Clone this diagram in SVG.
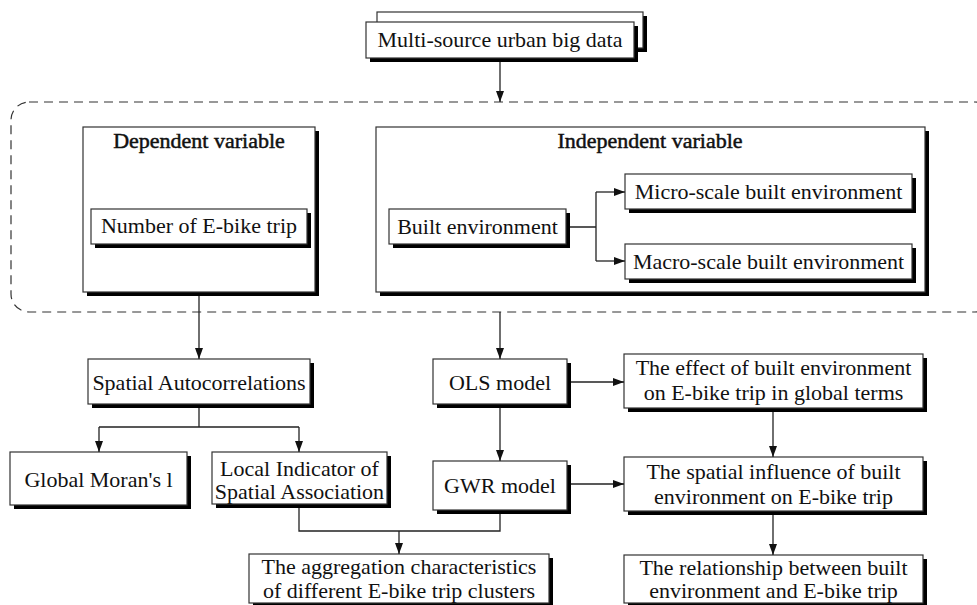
<svg xmlns="http://www.w3.org/2000/svg" width="977" height="605" viewBox="0 0 977 605">
<defs>
<marker id="ah" markerWidth="11" markerHeight="8" refX="11" refY="4" orient="auto" markerUnits="userSpaceOnUse">
<path d="M0,0 L11,4 L0,8 Z" fill="#111"/>
</marker>
</defs>
<style>
.sh{fill:#000}
.bx{fill:#fff;stroke:#333;stroke-width:1.2}
.t{font-family:"Liberation Serif","Times New Roman",serif;font-size:22px;fill:#111;text-anchor:middle}
.tb{font-family:"Liberation Serif","Times New Roman",serif;font-size:22px;fill:#111;stroke:#111;stroke-width:0.5;text-anchor:middle}
.ln{fill:none;stroke:#222;stroke-width:1.3}
.ar{fill:none;stroke:#222;stroke-width:1.3;marker-end:url(#ah)}
.dash{fill:none;stroke:#333;stroke-width:1.2;stroke-dasharray:9 6}
</style>
<rect class="dash" x="11" y="102" width="982" height="210" rx="18"/>

<g id="bigdata">
<rect class="sh" x="381" y="16" width="266" height="36"/>
<rect class="bx" x="377" y="12" width="266" height="36"/>
<rect class="sh" x="370" y="26" width="268" height="36"/>
<rect class="bx" x="366" y="22" width="268" height="36"/>
<text class="t" x="500" y="47">Multi-source urban big data</text>
</g>

<g id="dependent">
<rect class="sh" x="87" y="131" width="232" height="165"/>
<rect class="bx" x="83" y="127" width="232" height="165"/>
<text class="tb" x="199" y="148">Dependent variable</text>
</g>
<g id="ebike">
<rect class="sh" x="95" y="213" width="216" height="35"/>
<rect class="bx" x="91" y="209" width="216" height="35"/>
<text class="t" x="199" y="233">Number of E-bike trip</text>
</g>

<g id="independent">
<rect class="sh" x="380" y="131" width="549" height="165"/>
<rect class="bx" x="376" y="127" width="549" height="165"/>
<text class="tb" x="650" y="148">Independent variable</text>
</g>
<g id="built">
<rect class="sh" x="393" y="213" width="177" height="35"/>
<rect class="bx" x="389" y="209" width="177" height="35"/>
<text class="t" x="477.5" y="234">Built environment</text>
</g>
<g id="micro">
<rect class="sh" x="629" y="178" width="287" height="35"/>
<rect class="bx" x="625" y="174" width="287" height="35"/>
<text class="t" x="768.5" y="199">Micro-scale built environment</text>
</g>
<g id="macro">
<rect class="sh" x="629" y="248" width="287" height="35"/>
<rect class="bx" x="625" y="244" width="287" height="35"/>
<text class="t" x="768.5" y="269">Macro-scale built environment</text>
</g>

<g id="spatialauto">
<rect class="sh" x="92" y="363" width="222" height="45"/>
<rect class="bx" x="88" y="359" width="222" height="45"/>
<text class="t" x="199" y="390">Spatial Autocorrelations</text>
</g>
<g id="moran">
<rect class="sh" x="14" y="456" width="177" height="53"/>
<rect class="bx" x="10" y="452" width="177" height="53"/>
<text class="t" x="98.5" y="487">Global Moran's l</text>
</g>
<g id="lisa">
<rect class="sh" x="216" y="456" width="175" height="52"/>
<rect class="bx" x="212" y="452" width="175" height="52"/>
<text class="t" x="299.5" y="476">Local Indicator of</text>
<text class="t" x="299.5" y="499">Spatial Association</text>
</g>
<g id="aggregation">
<rect class="sh" x="253" y="558" width="300" height="49"/>
<rect class="bx" x="249" y="554" width="300" height="49"/>
<text class="t" x="399" y="574">The aggregation characteristics</text>
<text class="t" x="399" y="598">of different E-bike trip clusters</text>
</g>

<g id="ols">
<rect class="sh" x="437" y="363" width="134" height="45"/>
<rect class="bx" x="433" y="359" width="134" height="45"/>
<text class="t" x="500" y="390">OLS model</text>
</g>
<g id="gwr">
<rect class="sh" x="437" y="465" width="134" height="49"/>
<rect class="bx" x="433" y="461" width="134" height="49"/>
<text class="t" x="500" y="493">GWR model</text>
</g>

<g id="effect">
<rect class="sh" x="628" y="358" width="299" height="54"/>
<rect class="bx" x="624" y="354" width="299" height="54"/>
<text class="t" x="773.5" y="375">The effect of built environment</text>
<text class="t" x="773.5" y="400">on E-bike trip in global terms</text>
</g>
<g id="influence">
<rect class="sh" x="628" y="461" width="299" height="54"/>
<rect class="bx" x="624" y="457" width="299" height="54"/>
<text class="t" x="773.5" y="479">The spatial influence of built</text>
<text class="t" x="773.5" y="504">environment on E-bike trip</text>
</g>
<g id="relationship">
<rect class="sh" x="628" y="559" width="299" height="48"/>
<rect class="bx" x="624" y="555" width="299" height="48"/>
<text class="t" x="773.5" y="575">The relationship between built</text>
<text class="t" x="773.5" y="598">environment and E-bike trip</text>
</g>

<g id="connectors">
<line class="ar" x1="500" y1="62" x2="500" y2="102"/>
<path class="ln" d="M570,227 H596 M596,192 V261"/>
<line class="ar" x1="596" y1="192" x2="625" y2="192"/>
<line class="ar" x1="596" y1="261" x2="625" y2="261"/>
<line class="ar" x1="199" y1="296" x2="199" y2="359"/>
<path class="ln" d="M199,408 V427 M99,427 H299"/>
<line class="ar" x1="99" y1="427" x2="99" y2="452"/>
<line class="ar" x1="299" y1="427" x2="299" y2="452"/>
<line class="ar" x1="500" y1="312" x2="500" y2="359"/>
<line class="ar" x1="500" y1="408" x2="500" y2="461"/>
<line class="ar" x1="571" y1="382" x2="624" y2="382"/>
<line class="ar" x1="571" y1="484" x2="624" y2="484"/>
<path class="ln" d="M299,508 V531 H500 V514"/>
<line class="ar" x1="399" y1="531" x2="399" y2="554"/>
<line class="ar" x1="773" y1="412" x2="773" y2="457"/>
<line class="ar" x1="773" y1="515" x2="773" y2="555"/>
</g>
</svg>
